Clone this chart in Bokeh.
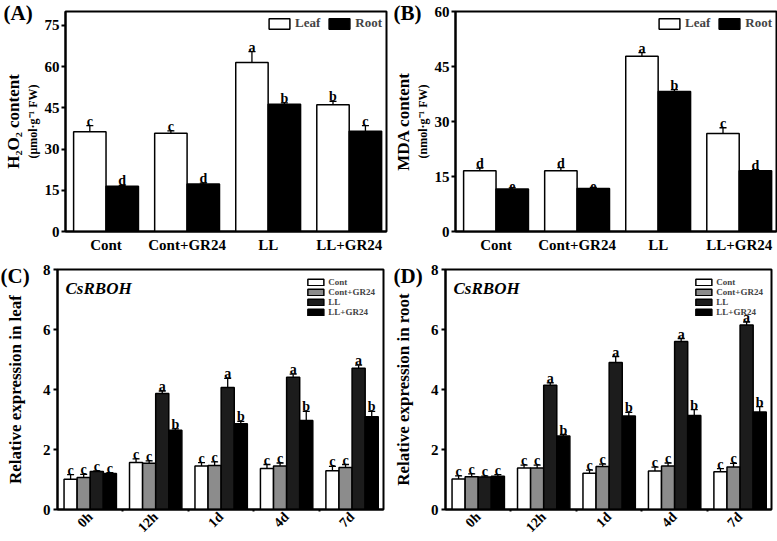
import numpy as np
from bokeh.plotting import figure
from bokeh.models import (ColumnDataSource, Whisker, TeeHead, Label, Legend, LegendItem,
                          FixedTicker, LinearAxis, Range1d)
from bokeh.layouts import column, row
from bokeh.core.properties import value
from bokeh.embed import file_html
from bokeh.resources import INLINE

# ---------------- data ----------------
groups = ["Cont", "Cont+GR24", "LL", "LL+GR24"]

h2o2_leaf = [36.3, 35.7, 61.5, 46.1]
h2o2_leaf_err = [2.2, 0.9, 3.9, 1.2]
h2o2_root = [16.5, 17.3, 46.3, 36.5]
h2o2_root_err = [0.3, 0.3, 0.5, 2.0]
h2o2_leaf_let = ["c", "c", "a", "b"]
h2o2_root_let = ["d", "d", "b", "c"]

mda_leaf = [16.6, 16.6, 47.8, 26.7]
mda_leaf_err = [0.7, 0.8, 1.0, 1.6]
mda_root = [11.6, 11.7, 38.2, 16.6]
mda_root_err = [0.3, 0.3, 0.5, 0.3]
mda_leaf_let = ["d", "d", "a", "c"]
mda_root_let = ["e", "e", "b", "d"]

times = ["0h", "12h", "1d", "4d", "7d"]
treatments = ["Cont", "Cont+GR24", "LL", "LL+GR24"]

leaf_cont = [1.01, 1.57, 1.45, 1.37, 1.29]
leaf_cont_err = [0.15, 0.12, 0.11, 0.13, 0.15]
leaf_gr24 = [1.07, 1.54, 1.47, 1.45, 1.40]
leaf_gr24_err = [0.10, 0.08, 0.12, 0.10, 0.10]
leaf_ll = [1.27, 3.87, 4.07, 4.41, 4.71]
leaf_ll_err = [0.02, 0.08, 0.30, 0.10, 0.10]
leaf_llgr = [1.20, 2.64, 2.86, 2.97, 3.09]
leaf_llgr_err = [0.03, 0.05, 0.08, 0.30, 0.18]

root_cont = [1.02, 1.38, 1.21, 1.28, 1.26]
root_cont_err = [0.10, 0.10, 0.10, 0.13, 0.10]
root_gr24 = [1.09, 1.38, 1.43, 1.45, 1.42]
root_gr24_err = [0.10, 0.10, 0.08, 0.10, 0.12]
root_ll = [1.08, 4.14, 4.90, 5.60, 6.15]
root_ll_err = [0.03, 0.08, 0.20, 0.10, 0.10]
root_llgr = [1.11, 2.45, 3.12, 3.13, 3.25]
root_llgr_err = [0.05, 0.05, 0.12, 0.20, 0.18]

let_cont = ["c", "c", "c", "c", "c"]
let_gr24 = ["c", "c", "c", "c", "c"]
let_ll = ["c", "a", "a", "a", "a"]
let_llgr = ["c", "b", "b", "b", "b"]

FONT = "Liberation Serif"
treat_colors = ["#ffffff", "#8c8c8c", "#1c1c1c", "#000000"]


def style(p):
    p.outline_line_color = "black"
    p.outline_line_width = 2
    p.background_fill_color = "white"
    p.border_fill_color = "white"
    p.xgrid.visible = False
    p.ygrid.visible = False
    for ax in p.axis:
        ax.axis_line_width = 2
        ax.major_tick_line_width = 2
        ax.minor_tick_line_color = None
        ax.major_label_text_font = FONT
        ax.major_label_text_font_style = "bold"
        ax.major_label_text_color = "black"
        ax.axis_label_text_font = FONT
        ax.axis_label_text_font_style = "bold"
        ax.axis_label_text_color = "black"


def panel_title(p, text, offset, standoff):
    p.title.text = text
    p.title.align = "left"
    p.title.offset = offset
    p.title.standoff = standoff
    p.title.text_font = FONT
    p.title.text_font_style = "bold"
    p.title.text_font_size = "21px"
    p.title.text_color = "black"


def bars_with_err(p, xs, vals, errs, lets, color, width, let_size):
    top = [v + e for v, e in zip(vals, errs)]
    src = ColumnDataSource(dict(x=xs, top=vals, upper=top,
                                lower=[v - e for v, e in zip(vals, errs)], let=lets))
    r = p.vbar(x="x", top="top", width=width, bottom=0, source=src,
               fill_color=color, line_color="black", line_width=1.5)
    w = Whisker(base="x", upper="upper", lower="lower", source=src,
                line_color="black", line_width=1.3,
                upper_head=TeeHead(size=7, line_color="black", line_width=1.3),
                lower_head=TeeHead(size=7, line_color="black", line_width=1.3))
    p.add_layout(w)
    p.text(x="x", y="upper", text="let", source=src, text_align="center",
           text_baseline="bottom", y_offset=3, text_font=value(FONT),
           text_font_style="bold", text_font_size=let_size, text_color="black")
    return r


def top_panel(title, vals_l, err_l, let_l, vals_r, err_r, let_r, ymax, yticks,
              lab1, lab2):
    p = figure(frame_width=321, frame_height=220, output_backend="svg",
               toolbar_location=None,
               x_range=Range1d(-0.5, 3.46), y_range=Range1d(0, ymax),
               min_border_left=62, min_border_right=4, min_border_top=11,
               min_border_bottom=31)
    xs = np.arange(len(groups))
    rl = bars_with_err(p, list(xs - 0.2), vals_l, err_l, let_l, "white", 0.4, "14px")
    rr = bars_with_err(p, list(xs + 0.2), vals_r, err_r, let_r, "black", 0.4, "14px")
    p.xaxis.ticker = FixedTicker(ticks=list(xs))
    p.xaxis.major_label_overrides = {int(i): g for i, g in zip(xs, groups)}
    p.xaxis.major_tick_line_color = None
    p.xaxis.major_tick_out = 0
    p.xaxis.major_tick_in = 0
    p.yaxis.ticker = FixedTicker(ticks=yticks)
    outer = LinearAxis(axis_label=lab1, axis_line_color=None, major_tick_line_color=None,
                       minor_tick_line_color=None, major_label_text_font_size="0px",
                       axis_label_standoff=0, major_label_standoff=0,
                       major_tick_out=0, major_tick_in=0)
    outer.ticker = FixedTicker(ticks=[])
    p.add_layout(outer, "left")
    p.yaxis[0].axis_label = lab2
    style(p)
    p.xaxis.major_label_text_font_size = "15px"
    p.xaxis.major_label_standoff = 5
    p.yaxis[0].major_label_text_font_size = "15px"
    p.yaxis[0].axis_label_text_font_size = "12px"
    p.yaxis[0].axis_label_standoff = 2
    p.yaxis[0].major_tick_out = 4
    p.yaxis[0].major_tick_in = 0
    p.yaxis[0].major_label_standoff = 2
    outer.axis_label_text_font_size = "17px"
    leg = Legend(items=[LegendItem(label="Leaf", renderers=[rl]),
                        LegendItem(label="Root", renderers=[rr])],
                 orientation="horizontal", location="top_right",
                 glyph_width=26, glyph_height=13, label_text_font=FONT,
                 label_text_font_style="bold", label_text_font_size="13px",
                 border_line_color=None, background_fill_alpha=0,
                 spacing=6, padding=2, margin=4, label_standoff=3,
                 label_height=13)
    p.add_layout(leg)
    panel_title(p, title, -62, -26)
    return p


def bottom_panel(title, data, ylab, title_off):
    p = figure(frame_width=326, frame_height=240, output_backend="svg",
               toolbar_location=None,
               x_range=Range1d(-0.5, 4.48), y_range=Range1d(0, 8),
               min_border_left=57, min_border_right=5, min_border_top=7,
               min_border_bottom=31)
    xs = np.arange(len(times))
    offs = [-0.3, -0.1, 0.1, 0.3]
    rs = []
    for (vals, errs, lets), off, col in zip(data, offs, treat_colors):
        rs.append(bars_with_err(p, list(xs + off), vals, errs, lets, col, 0.2, "14px"))
    p.xaxis.ticker = FixedTicker(ticks=list(xs), minor_ticks=[0.5, 1.5, 2.5, 3.5])
    p.xaxis.major_label_overrides = {int(i): t for i, t in zip(xs, times)}
    p.yaxis.ticker = FixedTicker(ticks=[0, 2, 4, 6, 8])
    p.yaxis.axis_label = ylab
    style(p)
    p.xaxis.major_tick_line_color = None
    p.xaxis.major_tick_out = 0
    p.xaxis.major_tick_in = 0
    p.xaxis.minor_tick_line_color = "black"
    p.xaxis.minor_tick_out = 2
    p.xaxis.minor_tick_in = 0
    p.xaxis.minor_tick_line_width = 2
    p.xaxis.major_label_orientation = np.pi / 4
    p.xaxis.major_label_text_font_size = "14px"
    p.xaxis.major_label_standoff = 3
    p.yaxis.major_label_text_font_size = "15px"
    p.yaxis.axis_label_text_font_size = "17px"
    p.yaxis.major_tick_out = 4
    p.yaxis.major_tick_in = 0
    p.yaxis.major_label_standoff = 3
    p.yaxis.axis_label_standoff = 15
    leg = Legend(items=[LegendItem(label=t, renderers=[r]) for t, r in zip(treatments, rs)],
                 location="top_right", glyph_width=20, glyph_height=8,
                 label_text_font=FONT, label_text_font_style="bold",
                 label_text_font_size="9px", label_height=8, spacing=0,
                 border_line_color=None, background_fill_alpha=0, padding=0,
                 margin=8, label_standoff=3, label_text_line_height=0.9)
    p.add_layout(leg)
    p.add_layout(Label(x=8, y=212, x_units="screen", y_units="screen", text="CsRBOH",
                       text_font=FONT, text_font_style="bold italic", text_font_size="17px",
                       text_color="black"))
    panel_title(p, title, title_off, -36)
    return p


pA = top_panel("(A)", h2o2_leaf, h2o2_leaf_err, h2o2_leaf_let, h2o2_root, h2o2_root_err,
               h2o2_root_let, 80, [0, 15, 30, 45, 60, 75],
               "H\u2082O\u2082 content", "(\u03bcmol\u00b7g\u207b\u00b9 FW)")
pB = top_panel("(B)", mda_leaf, mda_leaf_err, mda_leaf_let, mda_root, mda_root_err,
               mda_root_let, 60, [0, 15, 30, 45, 60],
               "MDA content", "(nmol\u00b7g\u207b\u00b9 FW)")

dataC = [(leaf_cont, leaf_cont_err, let_cont), (leaf_gr24, leaf_gr24_err, let_gr24),
         (leaf_ll, leaf_ll_err, let_ll), (leaf_llgr, leaf_llgr_err, let_llgr)]
dataD = [(root_cont, root_cont_err, let_cont), (root_gr24, root_gr24_err, let_gr24),
         (root_ll, root_ll_err, let_ll), (root_llgr, root_llgr_err, let_llgr)]

pC = bottom_panel("(C)", dataC, "Relative expression in leaf", -57)
pD = bottom_panel("(D)", dataD, "Relative expression in root", -52)

layout = column(row(pA, pB), row(pC, pD))
open("out.html", "w").write(file_html(layout, INLINE))
